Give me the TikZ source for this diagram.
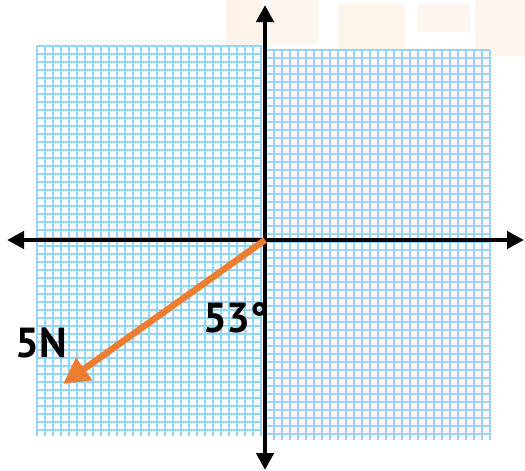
\documentclass[tikz,border=0pt]{standalone}
\usepackage{fontspec}
\setmainfont{PT Sans}
\usetikzlibrary{arrows.meta}

\definecolor{gridblue}{RGB}{150,212,245}
\definecolor{forceorange}{RGB}{237,125,49}
\definecolor{wmark}{RGB}{250,228,205}

\begin{document}
\begin{tikzpicture}[x=1pt, y=-1pt,
  gridline/.style={gridblue, line width=1.8pt},
  axis/.style={line width=4.4pt, black, {Triangle[length=17pt,width=17pt]}-{Triangle[length=17pt,width=17pt]}},
  force/.style={line width=6.5pt, forceorange, -{Triangle[length=26pt,width=26pt]}},
  lbl/.style={font=\fontsize{42}{42}\selectfont\bfseries, anchor=base, inner sep=0pt}]
  \useasboundingbox (0,0) rectangle (525,471);
  % faint watermark at the top
  \fill[wmark, opacity=0.45] (226,0) rectangle (262,45);
  \fill[wmark, opacity=0.35] (270,0) rectangle (318,44);
  \fill[wmark, opacity=0.4] (338,4) rectangle (405,50);
  \fill[wmark, opacity=0.35] (418,4) rectangle (470,32);
  \fill[wmark, opacity=0.35] (475,0) rectangle (525,56);
  % grid, left and right panels
  \foreach \x in {37,45,...,262} \draw[gridline] (\x,46) -- (\x,436);
  \foreach \y in {46,54,...,436} \draw[gridline] (37,\y) -- (262,\y);
  \foreach \x in {266,274,...,490} \draw[gridline] (\x,50) -- (\x,440);
  \foreach \y in {50,58,...,440} \draw[gridline] (266,\y) -- (490,\y);
  % axes
  \coordinate (O) at (265,240);
  \coordinate (W) at (7,240);
  \coordinate (E) at (524,240);
  \coordinate (N) at (265,5);
  \coordinate (S) at (265,470);
  \draw[axis] (W) -- (E);
  \draw[axis] (S) -- (N);
  % force vector
  \coordinate (F) at (63,384);
  \draw[force] (O) -- (F);
  % labels
  \node[lbl] (fN) at (41,357) {5N};
  \node[lbl] (ang) at (236,332) {53°};
\end{tikzpicture}
\end{document}
